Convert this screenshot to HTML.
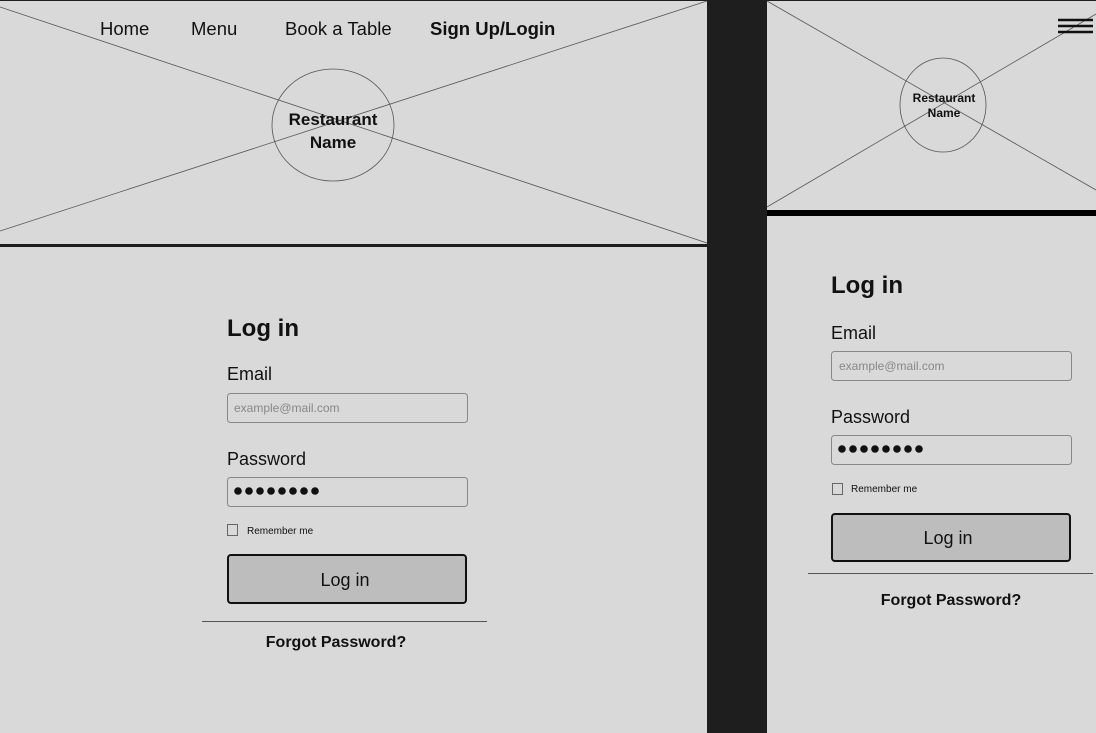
<!DOCTYPE html>
<html><head><meta charset="utf-8"><style>
html,body{margin:0;padding:0;background:#1e1e1e;width:1096px;height:733px;overflow:hidden}
svg{display:block}
text{font-family:"Liberation Sans",Arial,sans-serif;fill:#111}
</style></head><body>
<svg width="1096" height="733" viewBox="0 0 1096 733" xmlns="http://www.w3.org/2000/svg">
<rect width="1096" height="733" fill="#1e1e1e"/>
<!-- left panel -->
<rect x="0" y="1" width="707" height="732" fill="#d9d9d9"/>
<rect x="0" y="244" width="707" height="3" fill="#1e1e1e"/>
<g stroke="#555" stroke-width="0.8" fill="none">
<line x1="0" y1="7" x2="707" y2="243"/>
<line x1="0" y1="231" x2="707" y2="1"/>
<ellipse cx="333" cy="125" rx="61" ry="56"/>
</g>
<g font-size="18.5">
<text x="100" y="35">Home</text>
<text x="191" y="35">Menu</text>
<text x="285" y="35">Book a Table</text>
<text x="430" y="35" font-weight="bold">Sign Up/Login</text>
</g>
<text x="333" y="125" font-size="17" font-weight="bold" text-anchor="middle">Restaurant</text>
<text x="333" y="148" font-size="17" font-weight="bold" text-anchor="middle">Name</text>

<text x="227" y="336" font-size="24" font-weight="bold">Log in</text>
<text x="227" y="380" font-size="18">Email</text>
<rect x="227.5" y="393.5" width="240" height="29" rx="3" fill="none" stroke="#888"/>
<text x="234" y="412" font-size="12" style="fill:#888">example@mail.com</text>
<text x="227" y="465" font-size="18">Password</text>
<rect x="227.5" y="477.5" width="240" height="29" rx="3" fill="none" stroke="#888"/>
<g fill="#111">
<circle cx="238" cy="491" r="3.8"/><circle cx="249" cy="491" r="3.8"/><circle cx="260" cy="491" r="3.8"/><circle cx="271" cy="491" r="3.8"/><circle cx="282" cy="491" r="3.8"/><circle cx="293" cy="491" r="3.8"/><circle cx="304" cy="491" r="3.8"/><circle cx="315" cy="491" r="3.8"/>
</g>
<rect x="227.5" y="524.5" width="10" height="11" fill="none" stroke="#666"/>
<text x="247" y="534" font-size="10">Remember me</text>
<rect x="228" y="555" width="238" height="48" rx="3" fill="#bdbdbd" stroke="#111" stroke-width="2"/>
<text x="345" y="586" font-size="18" text-anchor="middle">Log in</text>
<line x1="202" y1="621.5" x2="487" y2="621.5" stroke="#555" stroke-width="1"/>
<text x="336" y="647" font-size="16" font-weight="bold" text-anchor="middle">Forgot Password?</text>

<!-- right panel -->
<rect x="767" y="1" width="329" height="732" fill="#d9d9d9"/>
<rect x="767" y="210" width="329" height="6" fill="#000"/>
<g stroke="#555" stroke-width="0.8" fill="none">
<line x1="767" y1="1" x2="1096" y2="190"/>
<line x1="767" y1="207" x2="1096" y2="14"/>
<ellipse cx="943" cy="105" rx="43" ry="47"/>
</g>
<g stroke="#111" stroke-width="2.5">
<line x1="1058" y1="20" x2="1093" y2="20"/>
<line x1="1058" y1="26" x2="1093" y2="26"/>
<line x1="1058" y1="32" x2="1093" y2="32"/>
</g>
<text x="944" y="102" font-size="12" font-weight="bold" text-anchor="middle">Restaurant</text>
<text x="944" y="117" font-size="12" font-weight="bold" text-anchor="middle">Name</text>

<text x="831" y="293" font-size="24" font-weight="bold">Log in</text>
<text x="831" y="339" font-size="18">Email</text>
<rect x="831.5" y="351.5" width="240" height="29" rx="3" fill="none" stroke="#888"/>
<text x="839" y="370" font-size="12" style="fill:#888">example@mail.com</text>
<text x="831" y="423" font-size="18">Password</text>
<rect x="831.5" y="435.5" width="240" height="29" rx="3" fill="none" stroke="#888"/>
<g fill="#111">
<circle cx="842" cy="449" r="3.8"/><circle cx="853" cy="449" r="3.8"/><circle cx="864" cy="449" r="3.8"/><circle cx="875" cy="449" r="3.8"/><circle cx="886" cy="449" r="3.8"/><circle cx="897" cy="449" r="3.8"/><circle cx="908" cy="449" r="3.8"/><circle cx="919" cy="449" r="3.8"/>
</g>
<rect x="832.5" y="483.5" width="10" height="11" fill="none" stroke="#666"/>
<text x="851" y="492" font-size="10">Remember me</text>
<rect x="832" y="514" width="238" height="47" rx="3" fill="#bdbdbd" stroke="#111" stroke-width="2"/>
<text x="948" y="544" font-size="18" text-anchor="middle">Log in</text>
<line x1="808" y1="573.5" x2="1093" y2="573.5" stroke="#555" stroke-width="1"/>
<text x="951" y="605" font-size="16" font-weight="bold" text-anchor="middle">Forgot Password?</text>
</svg>
</body></html>
